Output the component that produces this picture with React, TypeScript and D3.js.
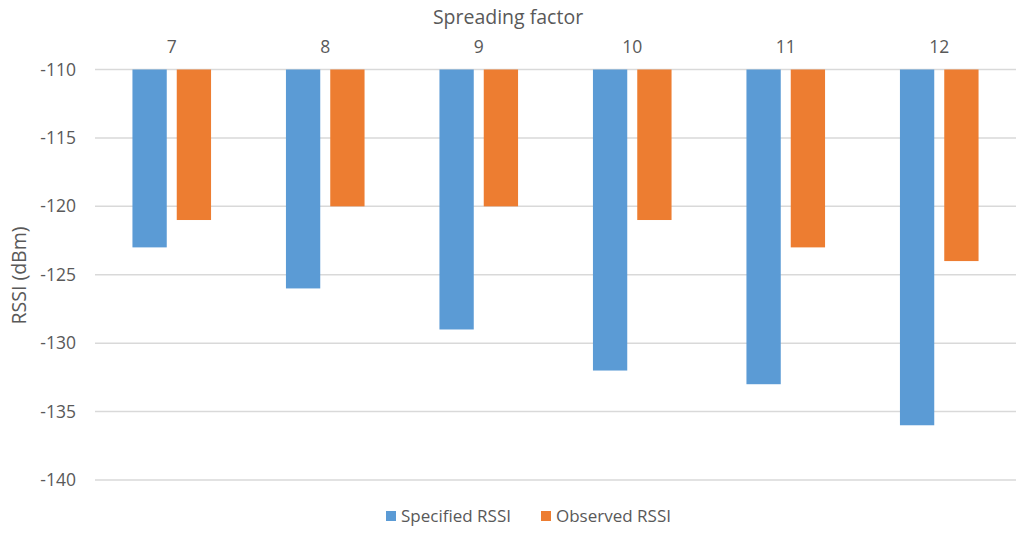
import * as d3 from "d3";
import React from "react";

const categories = ["7", "8", "9", "10", "11", "12"];
const seriesNames = ["Specified RSSI", "Observed RSSI"];
const specified = [-123, -126, -129, -132, -133, -136];
const observed = [-121, -120, -120, -121, -123, -124];
const yTicks = [-110, -115, -120, -125, -130, -135, -140];
const colors = ["#5B9BD5", "#ED7D31"];

const W = 1024;
const H = 537;
const font = "'Open Sans', 'Noto Sans', sans-serif";
const textColor = "#595959";

const App: React.FC = () => {
  const x = d3.scaleBand<string>().domain(categories).range([95, 1016]);
  const y = d3.scaleLinear().domain([-110, -140]).range([69.5, 480]);

  const groupWidth = 78.6;
  const x1 = d3
    .scaleBand<string>()
    .domain(seriesNames)
    .range([0, groupWidth])
    .paddingInner(10 / 44.3);

  const values = [specified, observed];

  return (
    <svg
      width={W}
      height={H}
      style={{ position: "absolute", left: 0, top: 0, background: "#fff" }}
    >
      {/* gridlines */}
      {yTicks.map((t) => (
        <line
          key={t}
          x1={95}
          x2={1016}
          y1={y(t)}
          y2={y(t)}
          stroke="#D9D9D9"
          strokeWidth={1.5}
        />
      ))}
      {/* y tick labels */}
      {yTicks.map((t) => (
        <text
          key={"l" + t}
          x={76}
          y={y(t)}
          dy="0.35em"
          textAnchor="end"
          fontFamily={font}
          fontSize={17.5}
          fill={textColor}
        >
          {t}
        </text>
      ))}
      {/* bars */}
      {values.map((vals, si) =>
        vals.map((v, ci) => {
          const cx = (x(categories[ci]) ?? 0) + x.bandwidth() / 2;
          const bx = cx - groupWidth / 2 + (x1(seriesNames[si]) ?? 0);
          return (
            <rect
              key={si + "-" + ci}
              x={bx}
              y={y(-110)}
              width={x1.bandwidth()}
              height={y(v) - y(-110)}
              fill={colors[si]}
            />
          );
        })
      )}
      {/* category labels on top */}
      {categories.map((c) => (
        <text
          key={"c" + c}
          x={(x(c) ?? 0) + x.bandwidth() / 2}
          y={53}
          textAnchor="middle"
          fontFamily={font}
          fontSize={17.5}
          fill={textColor}
        >
          {c}
        </text>
      ))}
      {/* axis titles */}
      <text
        x={508}
        y={24}
        textAnchor="middle"
        fontFamily={font}
        fontSize={19.5}
        fill={textColor}
      >
        Spreading factor
      </text>
      <text
        transform={`translate(26, 275.5) rotate(-90)`}
        textAnchor="middle"
        fontFamily={font}
        fontSize={19.5}
        fill={textColor}
      >
        RSSI (dBm)
      </text>
      {/* legend */}
      {seriesNames.map((s, i) => {
        const lx = i === 0 ? 386 : 541;
        return (
          <g key={"lg" + s}>
            <rect x={lx} y={511} width={10} height={10} fill={colors[i]} />
            <text
              x={lx + 15}
              y={516}
              dy="0.35em"
              fontFamily={font}
              fontSize={17}
              fill={textColor}
            >
              {s}
            </text>
          </g>
        );
      })}
    </svg>
  );
};

export default App;
